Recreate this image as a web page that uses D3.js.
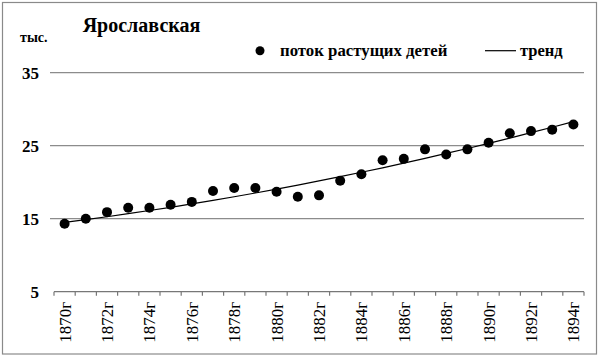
<!DOCTYPE html>
<html><head><meta charset="utf-8">
<script src="https://cdn.jsdelivr.net/npm/d3@7"></script>
<style>body{margin:0;background:#fff}svg{display:block}</style>
</head><body><div id="c"></div>
<script>
const years = [1870,1871,1872,1873,1874,1875,1876,1877,1878,1879,1880,1881,1882,1883,1884,1885,1886,1887,1888,1889,1890,1891,1892,1893,1894];
const values = [14.3,15.0,15.9,16.5,16.5,16.9,17.3,18.8,19.2,19.2,18.7,18.0,18.2,20.2,21.1,23.0,23.2,24.5,23.8,24.5,25.4,26.7,27.0,27.2,27.9];
const trend = [14.5,14.88,15.27,15.69,16.12,16.56,17.03,17.51,18.01,18.52,19.06,19.61,20.17,20.76,21.36,21.97,22.61,23.26,23.94,24.62,25.32,26.04,26.78,27.53,28.3];
const yTicks = [5,15,25,35];
const title = "Ярославская";
const unit = "тыс.";
const seriesNames = ["поток растущих детей","тренд"];

const FONT = "'Liberation Serif', 'Times New Roman', 'DejaVu Serif', serif";

const W=600,H=358;
const svg=d3.select("#c").append("svg").attr("width",W).attr("height",H)
  .attr("font-family",FONT);
svg.append("rect").attr("x",2.5).attr("y",2.5).attr("width",594).attr("height",351.5).attr("fill","#fff").attr("stroke","#8a8a8a").attr("stroke-width",1.2);

const x=d3.scaleBand().domain(years).range([54,584]).padding(0);
const y=d3.scaleLinear().domain([5,35]).range([291.7,72.7]);

// gridlines
svg.append("g").selectAll("line").data(yTicks.filter(t=>t!==5)).join("line")
  .attr("x1",50).attr("x2",584).attr("y1",d=>y(d)).attr("y2",d=>y(d))
  .attr("stroke","#8c8c8c").attr("stroke-width",1.3);

// y labels
svg.append("g").selectAll("text").data(yTicks).join("text")
  .attr("x",39).attr("y",d=>y(d)).attr("dy","0.35em").attr("text-anchor","end")
  .attr("font-size",17).attr("font-weight","bold").text(d=>d);

// x axis
const xa=svg.append("g").attr("transform","translate(0,"+y(5)+")");
xa.append("line").attr("x1",54).attr("x2",584).attr("stroke","#777").attr("stroke-width",1.3);
const edges=years.map(d=>x(d)).concat([x(years[years.length-1])+x.bandwidth()]);
xa.selectAll("line.t").data(edges).join("line").attr("class","t")
  .attr("x1",d=>d).attr("x2",d=>d).attr("y1",0).attr("y2",4).attr("stroke","#777").attr("stroke-width",1.2);
xa.selectAll("text").data(years.filter((d,i)=>i%2===0)).join("text")
  .attr("transform",d=>"translate("+(x(d)+x.bandwidth()/2)+",10) rotate(-90)")
  .attr("text-anchor","end").attr("dy","0.35em").attr("font-size",17)
  .text(d=>d+"г");

// trend line
svg.append("path").datum(trend).attr("fill","none").attr("stroke","#000").attr("stroke-width",1.2)
  .attr("d",d3.line().x((d,i)=>x(years[i])+x.bandwidth()/2).y(d=>y(d)));

// points
svg.append("g").selectAll("circle").data(values).join("circle")
  .attr("cx",(d,i)=>x(years[i])+x.bandwidth()/2).attr("cy",d=>y(d)).attr("r",5).attr("fill","#000");

// title & unit
svg.append("text").attr("x",141.5).attr("y",31.5).attr("text-anchor","middle").attr("font-size",20).attr("font-weight","bold").text(title);
svg.append("text").attr("x",20).attr("y",41.5).attr("font-size",14).attr("font-weight","bold").text(unit);

// legend
svg.append("circle").attr("cx",260).attr("cy",50.7).attr("r",4.5).attr("fill","#000");
svg.append("text").attr("x",280).attr("y",56).attr("font-size",16.8).attr("font-weight","bold").text(seriesNames[0]);
svg.append("line").attr("x1",485).attr("x2",516).attr("y1",50.7).attr("y2",50.7).attr("stroke","#000").attr("stroke-width",1.2);
svg.append("text").attr("x",520).attr("y",56).attr("font-size",16.5).attr("font-weight","bold").text(seriesNames[1]);
</script></body></html>
